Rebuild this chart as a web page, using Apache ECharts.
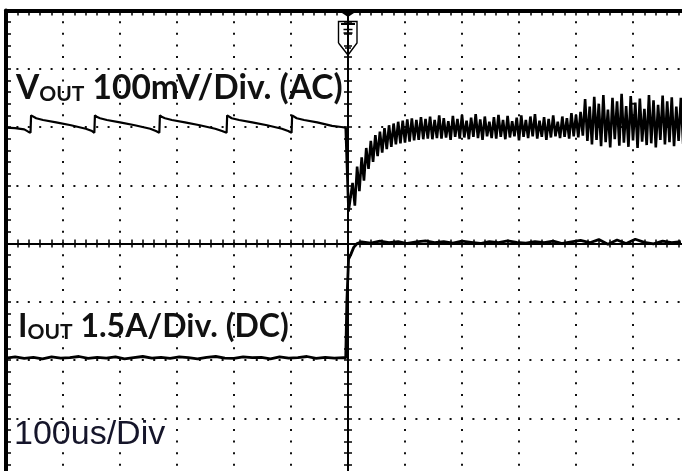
<!DOCTYPE html>
<html><head><meta charset="utf-8">
<script src="https://cdn.jsdelivr.net/npm/echarts@6/dist/echarts.min.js"></script>
<style>html,body{margin:0;padding:0;background:#fff}#c{width:682px;height:471px}</style>
</head><body><div id="c"></div>
<script>
// ---- Vout (mV, AC) before the load step: sawtooth ripple ----
const sawTime = [-600,-584,-568,-561,-557,
  -556,-553,-547,-535,-512,-486,-460,-449,-445,
  -444,-440,-435,-423,-400,-374,-347,-337,-331,
  -330,-326,-321,-309,-286,-260,-233,-221,-213,
  -212,-209,-204,-191,-168,-142,-116,-105,-99,
  -98,-95,-90,-77,-54,-28,-12,-4];
const sawMv = [-1,-2,-4,-8,-10,
  20,17,15,12,8,3,-3,-7,-10,
  20,17,15,12,8,3,-3,-7,-10,
  20,17,15,12,8,3,-3,-7,-10,
  20,17,15,12,8,3,-3,-7,-10,
  20,17,15,12,8,2,0,-1];
// ---- Vout after the step: undershoot, recovery and switching noise ----
const stepTime = [-4,-2,1,4];
const stepMv = [-1,-60,-145,-143];
const noiseTime = [8,12,16,20,24,28,32,36,40,44,48,52,56,60,64,68,72,76,80,84,88,92,96,100,
  104,108,112,116,120,124,128,132,136,140,144,148,152,156,160,164,168,172,176,180,184,188,192,196,200,
  204,208,212,216,220,224,228,232,236,240,244,248,252,256,260,264,268,272,276,280,284,288,292,296,300,
  304,308,312,316,320,324,328,332,336,340,344,348,352,356,360,364,368,372,376,380,384,388,392,396,400,
  404,408,412,416,420,424,428,432,436,440,444,448,452,456,460,464,468,472,476,480,484,488,492,496,500,
  504,508,512,516,520,524,528,532,536,540,544,548,552,556,560,564,568,572,576,580,584,588];
const noiseMv = [-96,-135,-68,-110,-52,-92,-36,-72,-24,-60,-14,-50,-8,-44,-2,-38,3,-34,6,-30,9,-28,11,-27,
  13,-25,15,-23,12,-22,17,-21,14,-20,18,-21,12,-19,20,-20,15,-18,10,-22,19,-17,14,-20,21,
  -18,11,-21,16,-17,22,-19,13,-22,18,-16,9,-19,17,-20,21,-17,12,-21,19,-18,10,-16,16,-23,
  20,-17,12,-19,18,-16,22,-20,11,-17,17,-22,14,-18,20,-16,9,-19,18,-17,15,-20,24,-16,21,
  -18,26,-15,48,-24,35,-30,52,-22,40,-33,55,-26,30,-35,50,-21,44,-32,57,-27,36,-34,53,-23,
  42,-36,49,-25,31,-31,55,-28,46,-35,38,-22,54,-30,44,-26,51,-33,35,-24,50,-29];
// ---- Iout (A, DC) ----
const iPreTime = [-600,-584,-568,-552,-536,-520,-504,-488,-472,-456,-440,-424,-408,-392,-376,-360,-344,-328,-312,
  -296,-280,-264,-248,-232,-216,-200,-184,-168,-152,-136,-120,-104,-88,-72,-56,-40,-24,-8];
const iPreA = [0.05,0.08,0.04,0.07,0.03,0.08,0.05,0.06,0.09,0.04,0.07,0.05,0.08,0.03,0.06,0.09,0.05,0.07,0.04,
  0.08,0.06,0.03,0.07,0.09,0.05,0.04,0.08,0.06,0.07,0.03,0.08,0.05,0.06,0.09,0.04,0.07,0.05,0.06];
const iRiseTime = [-4,-2,1,5,10,16];
const iRiseA = [0.05,1.5,2.6,2.72,2.9,3.0];
const iPostTime = [24,40,56,72,88,104,120,136,152,168,184,200,216,232,248,264,280,296,312,328,344,360,
  376,392,408,424,440,456,472,488,504,520,536,552,568,584];
const iPostA = [3.04,3.01,3.06,3.02,3.05,3.0,3.04,3.07,3.02,3.05,3.01,3.06,3.03,3.0,3.05,3.02,3.07,3.03,
  3.01,3.05,3.02,3.06,3.0,3.04,3.08,3.02,3.1,2.98,3.09,3.0,3.11,3.03,2.99,3.06,3.02,3.05];
// ---- scales / labels ----
const timeRange = [-600, 600], timeStep = 100;      // 100 us / div
const voutRange = [-600, 200], voutStep = 100;      // 100 mV / div
const ioutRange = [-3, 9], ioutStep = 1.5;          // 1.5 A / div
const divRange = [-4, 4];
const voutLabel = ['V', 'OUT', ' 100mV/Div. (AC)'];
const ioutLabel = ['I', 'OUT', ' 1.5A/Div. (DC)'];
const timeLabel = '100us/Div';

const zip = (a, b) => a.map((x, i) => [x, b[i]]);
const K = '#000';
const dots = (gap) => ({show: true, lineStyle: {color: '#111', width: 2, type: [2, gap], dashOffset: 1}});

function xa(extra) {
  return Object.assign({type: 'value', min: timeRange[0], max: timeRange[1], interval: timeStep,
    axisLabel: {show: false}, splitLine: {show: false}}, extra);
}
function ya(extra) {
  return Object.assign({type: 'value', min: divRange[0], max: divRange[1], interval: 1,
    axisLabel: {show: false}, splitLine: {show: false}}, extra);
}
const tick = (inside, len, w) => ({show: true, inside: inside, length: len, lineStyle: {color: K, width: w}});
const minor = (len, w) => ({show: true, splitNumber: 5, length: len, lineStyle: {color: K, width: w}});

const chart = echarts.init(document.getElementById('c'), null, {renderer: 'canvas'});
const mk = (big) => ({
  v: {fontFamily: 'Lato', fontWeight: 'bold', fontSize: big, color: '#111', verticalAlign: 'bottom', lineHeight: 34},
  s: {fontFamily: 'Lato', fontWeight: 'bold', fontSize: 21, color: '#111', verticalAlign: 'bottom', lineHeight: 28},
  r: {fontFamily: 'Lato', fontWeight: 'bold', fontSize: big, color: '#111', verticalAlign: 'bottom', lineHeight: 34}
});
chart.setOption({
  animation: false,
  backgroundColor: '#fff',
  title: [
    {text: `{v|${voutLabel[0]}}{s|${voutLabel[1]}}{r|${voutLabel[2]}}`, left: 16, top: 71, padding: 0,
      textStyle: {rich: mk(33.5)}},
    {text: `{v|${ioutLabel[0]}}{s|${ioutLabel[1]}}{r|${ioutLabel[2]}}`, left: 18, top: 309, padding: 0,
      textStyle: {rich: mk(32)}},
    {text: timeLabel, left: 14, top: 418, padding: 0,
      textStyle: {fontFamily: 'Liberation Sans', fontWeight: 'normal', fontSize: 34, color: '#15152a'}}
  ],
  grid: {left: 6, top: 10.5, width: 684, height: 466, containLabel: false, outerBoundsMode: 'none'},
  xAxis: [
    xa({position: 'top', axisLine: {onZero: false, lineStyle: {color: K, width: 4}},
      axisTick: tick(true, 5, 1.5), minorTick: minor(5, 1.5), splitLine: dots(9.65)}),
    xa({position: 'bottom', axisLine: {onZero: true, onZeroAxisIndex: 2, lineStyle: {color: K, width: 2}},
      axisTick: tick(false, 4, 1.5), minorTick: minor(4, 1.5)}),
    xa({position: 'bottom', axisLine: {onZero: true, onZeroAxisIndex: 2, lineStyle: {color: K, width: 2}},
      axisTick: tick(true, 4, 1.5), minorTick: minor(4, 1.5)})
  ],
  yAxis: [
    {type: 'value', min: voutRange[0], max: voutRange[1], interval: voutStep, position: 'left',
      axisLabel: {show: false}, axisLine: {onZero: false, lineStyle: {color: K, width: 4}},
      axisTick: tick(true, 5, 1.5), minorTick: minor(5, 1.5), splitLine: dots(9.4)},
    {type: 'value', min: ioutRange[0], max: ioutRange[1], interval: ioutStep, show: false},
    ya({position: 'left', axisLine: {onZero: true, onZeroAxisIndex: 0, lineStyle: {color: K, width: 2}},
      axisTick: tick(false, 4, 1.5), minorTick: minor(4, 1.5)}),
    ya({position: 'left', axisLine: {onZero: true, onZeroAxisIndex: 0, lineStyle: {color: K, width: 2}},
      axisTick: tick(true, 4, 1.5), minorTick: minor(4, 1.5)})
  ],
  series: [
    {name: 'Vout ripple', type: 'line', xAxisIndex: 0, yAxisIndex: 0, showSymbol: false, z: 5,
      data: zip(sawTime, sawMv), lineStyle: {color: K, width: 2.2}},
    {name: 'Vout transient', type: 'line', xAxisIndex: 0, yAxisIndex: 0, showSymbol: false, z: 5,
      data: zip(stepTime, stepMv).concat(zip(noiseTime, noiseMv)), lineStyle: {color: K, width: 2.6}},
    {name: 'Iout', type: 'line', xAxisIndex: 0, yAxisIndex: 1, showSymbol: false, z: 5,
      data: zip(iPreTime, iPreA).concat(zip(iRiseTime, iRiseA), zip(iPostTime, iPostA)),
      lineStyle: {color: K, width: 2.8}}
  ]
});
// trigger marker at t = 0
const tx = chart.convertToPixel({xAxisIndex: 0}, 0);
chart.setOption({graphic: [
  {type: 'polygon', shape: {points: [[tx - 9, 11], [tx + 9, 11], [tx, 17]]}, style: {fill: K}, z: 10},
  {type: 'polyline', shape: {points: [[tx - 9.5, 43], [tx - 9.5, 21.5], [tx + 9, 21.5], [tx + 9, 43], [tx, 55], [tx - 9.5, 43]]},
    style: {stroke: K, lineWidth: 1.4, fill: null}, z: 10},
  {type: 'line', shape: {x1: tx - 7, y1: 24, x2: tx + 7, y2: 24}, style: {stroke: K, lineWidth: 2}, z: 10},
  {type: 'line', shape: {x1: tx - 4.5, y1: 29.5, x2: tx + 4.5, y2: 29.5}, style: {stroke: K, lineWidth: 1.5}, z: 10},
  {type: 'line', shape: {x1: tx - 4.5, y1: 33, x2: tx + 4.5, y2: 33}, style: {stroke: K, lineWidth: 1.5}, z: 10},
  {type: 'line', shape: {x1: tx - 3, y1: 48, x2: tx + 3, y2: 48}, style: {stroke: K, lineWidth: 1.5}, z: 10}
]});
</script></body></html>
